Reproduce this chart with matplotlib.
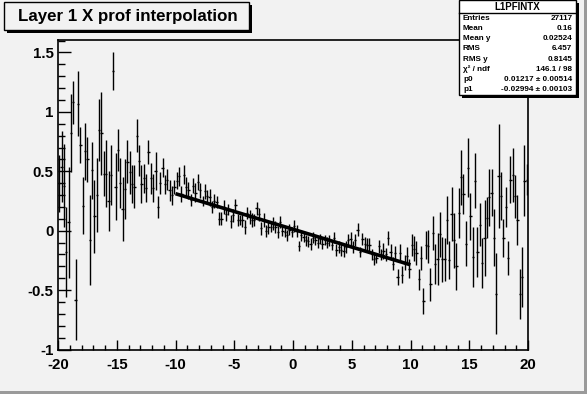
import numpy as np
import matplotlib
matplotlib.use('Agg')
import matplotlib.pyplot as plt
from matplotlib.patches import Rectangle
from matplotlib.ticker import MultipleLocator

# ---------------- data ----------------
nbins = 200
xmin, xmax = -20.0, 20.0

y_mean = [
    0.40, 0.54, 0.38, -0.18, 0.07, 0.82, 1.08, -0.58, 1.07, 0.72,
    0.21, 0.67, 0.60, -0.08, 0.51, 0.12, 0.30, 0.85, 0.82, 0.48,
    0.48, 0.25, 0.47, 1.34, 0.37, 0.68, 0.40, 0.18, 0.35, 0.58,
    0.49, 0.39, 0.37, 0.80, 0.59, 0.39, 0.44, 0.36, 0.66, 0.44,
    0.36, 0.50, 0.20, 0.40, 0.53, 0.39, 0.43, 0.34, 0.30, 0.37,
    0.42, 0.46, 0.31, 0.47, 0.37, 0.34, 0.26, 0.38, 0.32, 0.41,
    0.34, 0.25, 0.33, 0.29, 0.28, 0.20, 0.25, 0.24, 0.10, 0.10,
    0.20, 0.14, 0.18, 0.08, 0.13, 0.22, 0.09, 0.09, 0.09, 0.03,
    0.15, 0.115, 0.09, 0.09, 0.19, 0.14, 0.02, 0.09, 0.00, 0.03,
    0.03, 0.06, 0.03, -0.01, 0.07, 0.00, -0.01, -0.04, 0.01, -0.01,
    0.04, 0.00, -0.13, -0.04, -0.05, -0.08, -0.09, -0.11, -0.06, -0.08,
    -0.10, -0.07, -0.11, -0.08, -0.10, -0.08, -0.12, -0.06, -0.16, -0.14,
    -0.16, -0.17, -0.14, -0.08, -0.07, -0.14, -0.08, 0.01, -0.18, -0.07,
    -0.11, -0.12, -0.12, -0.20, -0.24, -0.23, -0.13, -0.20, -0.17, -0.20,
    -0.06, -0.18, -0.28, -0.19, -0.39, -0.19, -0.37, -0.27, -0.21, -0.32,
    -0.12, -0.15, -0.19, -0.41, -0.23, -0.59, -0.12, -0.13, -0.45, -0.02,
    -0.28, -0.24, -0.03, -0.24, -0.24, 0.09, -0.25, 0.14, -0.08, -0.30,
    0.15, 0.45, 0.31, -0.11, 0.53, 0.12, -0.22, 0.42, -0.18, 0.05,
    -0.27, -0.06, 0.11, 0.28, 0.32, -0.06, -0.53, 0.46, 0.29, -0.06,
    0.20, -0.23, 0.43, 0.47, 0.29, 0.09, -0.53, -0.39, 0.42, 0.43,
]

y_err = [
    0.24, 0.30, 0.35, 0.38, 0.47, 0.33, 0.18, 0.34, 0.27, 0.15,
    0.24, 0.24, 0.19, 0.38, 0.24, 0.31, 0.31, 0.26, 0.35, 0.19,
    0.28, 0.25, 0.25, 0.16, 0.28, 0.18, 0.21, 0.27, 0.25, 0.18,
    0.18, 0.16, 0.18, 0.14, 0.13, 0.16, 0.12, 0.12, 0.10, 0.13,
    0.12, 0.16, 0.09, 0.09, 0.08, 0.08, 0.09, 0.09, 0.08, 0.06,
    0.07, 0.08, 0.07, 0.08, 0.085, 0.07, 0.05, 0.065, 0.08, 0.065,
    0.065, 0.045, 0.06, 0.05, 0.07, 0.05, 0.055, 0.05, 0.055, 0.055,
    0.06, 0.055, 0.045, 0.055, 0.055, 0.05, 0.05, 0.045, 0.055, 0.06,
    0.05, 0.055, 0.055, 0.05, 0.055, 0.055, 0.055, 0.055, 0.05, 0.055,
    0.045, 0.055, 0.05, 0.05, 0.05, 0.045, 0.045, 0.045, 0.05, 0.045,
    0.05, 0.05, 0.04, 0.045, 0.045, 0.045, 0.045, 0.05, 0.045, 0.04,
    0.045, 0.04, 0.045, 0.04, 0.045, 0.045, 0.045, 0.045, 0.05, 0.05,
    0.05, 0.05, 0.05, 0.05, 0.055, 0.05, 0.05, 0.055, 0.045, 0.05,
    0.055, 0.06, 0.06, 0.05, 0.05, 0.045, 0.055, 0.045, 0.065, 0.055,
    0.06, 0.065, 0.055, 0.065, 0.07, 0.075, 0.07, 0.065, 0.07, 0.08,
    0.09, 0.105, 0.10, 0.09, 0.105, 0.11, 0.12, 0.14, 0.14, 0.14,
    0.17, 0.22, 0.19, 0.19, 0.18, 0.20, 0.16, 0.23, 0.23, 0.20,
    0.21, 0.23, 0.17, 0.19, 0.25, 0.20, 0.25, 0.23, 0.21, 0.18,
    0.21, 0.32, 0.17, 0.24, 0.20, 0.24, 0.34, 0.44, 0.20, 0.16,
    0.17, 0.14, 0.20, 0.23, 0.18, 0.21, 0.21, 0.25, 0.30, 0.13,
]

# fit results (pol1): y = p0 + p1 * x on [-10, 10]
p0 = 0.01217
p1 = -0.02994
fit_lo, fit_hi = -10.0, 10.0

title = "Layer 1 X prof interpolation"
stats_title = "L1PFINTX"
stats_labels = ["Entries", "Mean", "Mean y", "RMS", "RMS y",
                "\u03c7\u00b2 / ndf", "p0", "p1"]
stats_values = ["27117", "0.16", "0.02524", "6.457", "0.8145",
                "146.1 / 98", "0.01217 \u00b1 0.00514",
                "-0.02994 \u00b1 0.00103"]

xticks = [-20, -15, -10, -5, 0, 5, 10, 15, 20]
yticks = [-1, -0.5, 0, 0.5, 1, 1.5]
xtick_labels = ["-20", "-15", "-10", "-5", "0", "5", "10", "15", "20"]
ytick_labels = ["-1", "-0.5", "0", "0.5", "1", "1.5"]

# ---------------- figure ----------------
W, H, DPI = 587, 394, 100
BG = '#f2f2f2'
FONT = 'Liberation Sans'
plt.rcParams['font.family'] = [FONT, 'DejaVu Sans']

fig = plt.figure(figsize=(W / DPI, H / DPI), dpi=DPI, facecolor=BG)


def fx(px):
    return px / W


def fy(py):
    return 1 - py / H


ax = fig.add_axes([fx(58), fy(349.5), (528 - 58) / W, (349.5 - 40) / H])
ax.set_facecolor(BG)

edges = np.linspace(xmin, xmax, nbins + 1)
centers = 0.5 * (edges[:-1] + edges[1:])
half_w = 0.5 * (edges[1] - edges[0])

ax.errorbar(centers, y_mean, yerr=y_err, xerr=half_w, fmt='none',
            ecolor='black', elinewidth=1.0, capsize=0)

xf = np.linspace(fit_lo, fit_hi, 100)
ax.plot(xf, p0 + p1 * xf, color='black', lw=2.6, solid_capstyle='butt')

ax.set_xlim(xmin, xmax)
ax.set_ylim(-1.0, 1.605)

ax.set_xticks(xticks)
ax.set_xticklabels(xtick_labels)
ax.set_yticks(yticks)
ax.set_yticklabels(ytick_labels)
ax.xaxis.set_minor_locator(MultipleLocator(1))
ax.yaxis.set_minor_locator(MultipleLocator(0.1))

ax.tick_params(axis='x', which='major', direction='in', length=7.2, width=1,
               pad=6.0, labelsize=10.8)
ax.tick_params(axis='x', which='minor', direction='in', length=3.6, width=1)
ax.tick_params(axis='y', which='major', direction='in', length=9.5, width=1,
               pad=3.2, labelsize=10.8)
ax.tick_params(axis='y', which='minor', direction='in', length=5, width=1)
ax.tick_params(top=False, right=False, which='both')
for lab in ax.get_xticklabels() + ax.get_yticklabels():
    lab.set_fontweight('bold')
for sp in ax.spines.values():
    sp.set_linewidth(1.2)
    sp.set_color('black')

# ---------------- pad bevel ----------------
fig.patches.append(Rectangle((fx(0), fy(394)), 1, 3 / H, transform=fig.transFigure,
                             facecolor='#9a9a9a', edgecolor='none', zorder=0))
fig.patches.append(Rectangle((fx(584), fy(394)), 3 / W, 1, transform=fig.transFigure,
                             facecolor='#9a9a9a', edgecolor='none', zorder=0))

# ---------------- title box ----------------
tx0, ty0, tx1, ty1 = 4, 2, 249, 30
fig.patches.append(Rectangle((fx(tx0 + 2.5), fy(ty1 + 2.5)), (tx1 - tx0) / W, (ty1 - ty0) / H,
                             transform=fig.transFigure, facecolor='black',
                             edgecolor='none', zorder=5))
fig.patches.append(Rectangle((fx(tx0), fy(ty1)), (tx1 - tx0) / W, (ty1 - ty0) / H,
                             transform=fig.transFigure, facecolor=BG,
                             edgecolor='black', lw=1, zorder=6))
fig.text(fx(18), fy(16.5), title, fontsize=12.2, fontweight='bold',
         ha='left', va='center', zorder=7)

# ---------------- stats box ----------------
sx0, sy0, sx1, sy1 = 459, 0, 576, 95
fig.patches.append(Rectangle((fx(sx0 + 3), fy(sy1 + 3)), (sx1 - sx0) / W, (sy1 - sy0) / H,
                             transform=fig.transFigure, facecolor='black',
                             edgecolor='none', zorder=5))
fig.patches.append(Rectangle((fx(sx0), fy(sy1)), (sx1 - sx0) / W, (sy1 - sy0) / H,
                             transform=fig.transFigure, facecolor='white',
                             edgecolor='black', lw=1, zorder=6))
fig.lines.append(plt.Line2D([fx(sx0), fx(sx1)], [fy(12.5), fy(12.5)],
                            transform=fig.transFigure, color='black', lw=1, zorder=7))
fig.text(fx((sx0 + sx1) / 2), fy(6.5), stats_title, fontsize=7.0, fontweight='bold',
         ha='center', va='center', zorder=8)
row_y = np.linspace(18.5, 89.5, len(stats_labels))
for yy, lab, val in zip(row_y, stats_labels, stats_values):
    fig.text(fx(463), fy(yy), lab, fontsize=5.9, fontweight='bold',
             ha='left', va='center', zorder=8)
    fig.text(fx(572.5), fy(yy), val, fontsize=5.9, fontweight='bold',
             ha='right', va='center', zorder=8)

fig.savefig('out.png', dpi=DPI, facecolor=BG)
